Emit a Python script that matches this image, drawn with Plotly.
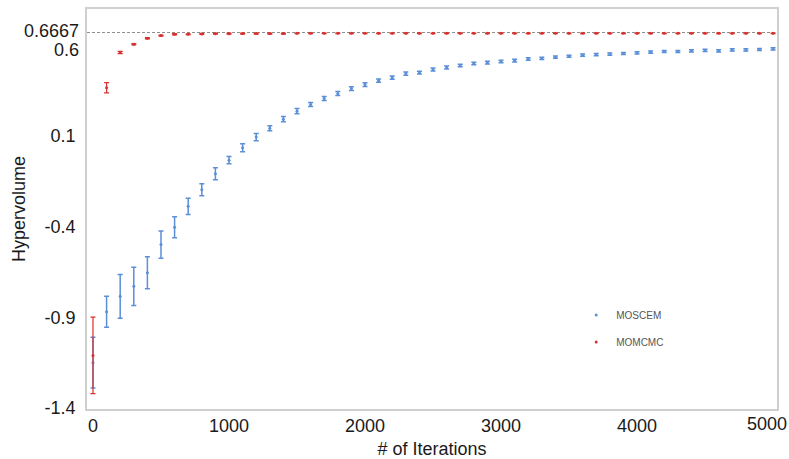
import plotly.graph_objects as go

# Iteration checkpoints (every 100 iterations)
iterations = list(range(0, 5001, 100))

# MOSCEM: mean hypervolume and half-width of the error bar
moscem_mean = [
    -1.15, -0.87, -0.785, -0.73, -0.655, -0.50, -0.405, -0.29, -0.198, -0.11,
    -0.036, 0.033, 0.091, 0.14, 0.19, 0.234, 0.27, 0.303, 0.331, 0.358,
    0.38, 0.402, 0.419, 0.441, 0.446, 0.463, 0.474, 0.485, 0.496, 0.501,
    0.507, 0.512, 0.521, 0.524, 0.531, 0.536, 0.542, 0.545, 0.548, 0.551,
    0.555, 0.559, 0.562, 0.562, 0.566, 0.568, 0.566, 0.571, 0.571, 0.573,
    0.577,
]
moscem_err = [
    0.14, 0.085, 0.12, 0.105, 0.088, 0.075, 0.058, 0.045, 0.033, 0.033,
    0.02, 0.022, 0.02, 0.014, 0.014, 0.014, 0.011, 0.011, 0.011, 0.01,
    0.01, 0.009, 0.009, 0.009, 0.008, 0.008, 0.008, 0.007, 0.007, 0.007,
    0.007, 0.007, 0.007, 0.006, 0.006, 0.006, 0.006, 0.006, 0.006, 0.006,
    0.006, 0.006, 0.006, 0.006, 0.006, 0.006, 0.006, 0.006, 0.006, 0.006,
    0.006,
]

# MOMCMC: mean hypervolume and half-width of the error bar
momcmc_mean = [
    -1.11, 0.363, 0.557, 0.602, 0.635, 0.650, 0.657, 0.657, 0.659, 0.660,
    0.660, 0.661, 0.661, 0.661, 0.661, 0.662, 0.662, 0.662, 0.662, 0.662,
    0.662, 0.662, 0.662, 0.662, 0.662, 0.662, 0.662, 0.662, 0.662, 0.662,
    0.662, 0.662, 0.662, 0.662, 0.662, 0.662, 0.662, 0.662, 0.662, 0.662,
    0.662, 0.662, 0.662, 0.662, 0.662, 0.662, 0.662, 0.662, 0.662, 0.662,
    0.662,
]
momcmc_err = [
    0.21, 0.028, 0.006, 0.004, 0.003, 0.003, 0.003, 0.002, 0.003, 0.003,
    0.003, 0.003, 0.003, 0.003, 0.003, 0.002, 0.002, 0.002, 0.002, 0.002,
    0.002, 0.002, 0.002, 0.002, 0.002, 0.002, 0.002, 0.002, 0.002, 0.002,
    0.002, 0.002, 0.002, 0.002, 0.002, 0.002, 0.002, 0.002, 0.002, 0.002,
    0.002, 0.002, 0.002, 0.002, 0.002, 0.002, 0.002, 0.002, 0.002, 0.002,
    0.002,
]

optimum = 0.6667
y_ticks = [-1.4, -0.9, -0.4, 0.1]
x_ticks = [0, 1000, 2000, 3000, 4000]
x_last = 5000  # labelled separately so it stays inside the page

BLUE = "#5b8fd8"
RED = "#d8302e"
FONT = "Liberation Sans, Arial, sans-serif"
LABEL_FONT = dict(family=FONT, size=18, color="#1a1a1a")

fig = go.Figure()

fig.add_trace(go.Scatter(
    x=iterations, y=moscem_mean, name="MOSCEM", mode="markers",
    marker=dict(color=BLUE, size=3),
    error_y=dict(type="data", array=moscem_err, color=BLUE, thickness=1.5, width=2.5),
    legendgroup="a",
))
fig.add_trace(go.Scatter(
    x=iterations, y=momcmc_mean, name="MOMCMC", mode="markers",
    marker=dict(color=RED, size=3),
    error_y=dict(type="data", array=momcmc_err, color=RED, thickness=1.2, width=2.5),
    legendgroup="b",
))

# Reference line at the true optimum hypervolume
fig.add_shape(type="line", xref="paper", x0=0, x1=1, yref="y", y0=optimum, y1=optimum,
              line=dict(color="#8f8f8f", width=1, dash="3px,2px"), layer="below")

# Upper y labels placed apart so they do not collide
for val, text, shift in [(optimum, "0.6667", 2), (0.6, "0.6", -5)]:
    fig.add_annotation(x=0, xref="paper", xanchor="right", xshift=-6,
                       y=val, yref="y", yanchor="middle", yshift=shift,
                       text=text, showarrow=False, font=LABEL_FONT)

# Last x label, pulled slightly left of its tick position
fig.add_annotation(x=x_last, xref="x", xanchor="center", xshift=-6,
                   y=0, yref="paper", yanchor="top", yshift=-3,
                   text=str(x_last), showarrow=False, font=LABEL_FONT)

fig.update_layout(
    width=789, height=459,
    margin=dict(l=87, r=12, t=9, b=50, autoexpand=False),
    paper_bgcolor="white", plot_bgcolor="white",
    font=dict(family=FONT, size=18, color="#1a1a1a"),
    showlegend=True,
    legend=dict(x=0.709, y=0.271, xanchor="left", yanchor="top",
                font=dict(family=FONT, size=10, color="#555555"),
                bgcolor="rgba(0,0,0,0)", tracegroupgap=8, itemwidth=30),
)

fig.update_xaxes(
    range=[-44, 5029], tickvals=x_ticks, ticktext=[str(v) for v in x_ticks],
    showgrid=False, zeroline=False, showline=True, mirror=True,
    linecolor="#cfcfcf", linewidth=1.5, ticks="", ticklabelstandoff=0,
    automargin=False,
    title=dict(text="# of Iterations", standoff=16, font=dict(size=18)),
)
fig.update_yaxes(
    range=[-1.405, 0.796], tickvals=y_ticks, ticktext=[f"{v:.1f}" for v in y_ticks],
    showgrid=False, zeroline=False, showline=True, mirror=True,
    linecolor="#cfcfcf", linewidth=1.5, ticks="", ticklabelstandoff=6,
    automargin=False,
    title=dict(text="Hypervolume", standoff=14, font=dict(size=18)),
)

fig.write_html("out.html")
